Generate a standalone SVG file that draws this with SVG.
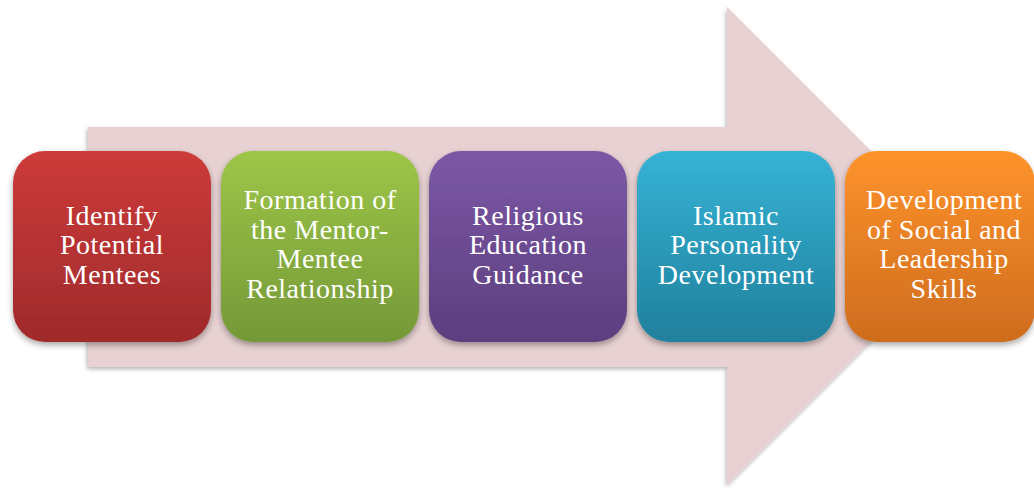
<svg xmlns="http://www.w3.org/2000/svg" width="1034" height="488" viewBox="0 0 1034 488">
<defs>
<filter id="sh" x="-10%" y="-10%" width="125%" height="130%">
<feDropShadow dx="0" dy="3" stdDeviation="3" flood-color="#000" flood-opacity="0.35"/>
</filter>
<filter id="ash" x="-5%" y="-5%" width="110%" height="110%">
<feDropShadow dx="-1" dy="2" stdDeviation="2" flood-color="#000" flood-opacity="0.3"/>
</filter>
<linearGradient id="gr" x1="0" y1="0" x2="0" y2="1"><stop offset="0" stop-color="#CD3B3A"/><stop offset="1" stop-color="#9F2A2B"/></linearGradient>
<linearGradient id="gg" x1="0" y1="0" x2="0" y2="1"><stop offset="0" stop-color="#9DC648"/><stop offset="1" stop-color="#759838"/></linearGradient>
<linearGradient id="gp" x1="0" y1="0" x2="0" y2="1"><stop offset="0" stop-color="#7C58A6"/><stop offset="1" stop-color="#5C3E7E"/></linearGradient>
<linearGradient id="gb" x1="0" y1="0" x2="0" y2="1"><stop offset="0" stop-color="#36B3D6"/><stop offset="1" stop-color="#20809C"/></linearGradient>
<linearGradient id="go" x1="0" y1="0" x2="0" y2="1"><stop offset="0" stop-color="#FE932C"/><stop offset="1" stop-color="#CE6C1E"/></linearGradient>
</defs>
<style>
.box{filter:url(#sh)}
.t{font-family:"Liberation Serif","Times New Roman",serif;font-size:28px;fill:#fff;text-anchor:middle;letter-spacing:0.5px}
</style>
<g id="arrow">
<path d="M88,127 L727,127 L727,7 L966,246 L727,485 L727,367 L88,367 Z" fill="#E8D1D2" filter="url(#ash)"/>
</g>
<g id="connectors"></g>
<g id="n1">
<rect class="box" x="13" y="151" width="198" height="191" rx="32" fill="url(#gr)"/>
<text class="t" x="112" y="225">Identify</text>
<text class="t" x="112" y="254">Potential</text>
<text class="t" x="112" y="284">Mentees</text>
</g>
<g id="n2">
<rect class="box" x="221" y="151" width="198" height="191" rx="32" fill="url(#gg)"/>
<text class="t" x="320" y="209">Formation of</text>
<text class="t" x="320" y="239">the Mentor-</text>
<text class="t" x="320" y="268">Mentee</text>
<text class="t" x="320" y="298">Relationship</text>
</g>
<g id="n3">
<rect class="box" x="429" y="151" width="198" height="191" rx="32" fill="url(#gp)"/>
<text class="t" x="528" y="225">Religious</text>
<text class="t" x="528" y="254">Education</text>
<text class="t" x="528" y="284">Guidance</text>
</g>
<g id="n4">
<rect class="box" x="637" y="151" width="198" height="191" rx="32" fill="url(#gb)"/>
<text class="t" x="736" y="225">Islamic</text>
<text class="t" x="736" y="254">Personality</text>
<text class="t" x="736" y="284">Development</text>
</g>
<g id="n5">
<rect class="box" x="845" y="151" width="190" height="191" rx="32" fill="url(#go)"/>
<text class="t" x="944" y="209">Development</text>
<text class="t" x="944" y="239">of Social and</text>
<text class="t" x="944" y="268">Leadership</text>
<text class="t" x="944" y="298">Skills</text>
</g>
</svg>
